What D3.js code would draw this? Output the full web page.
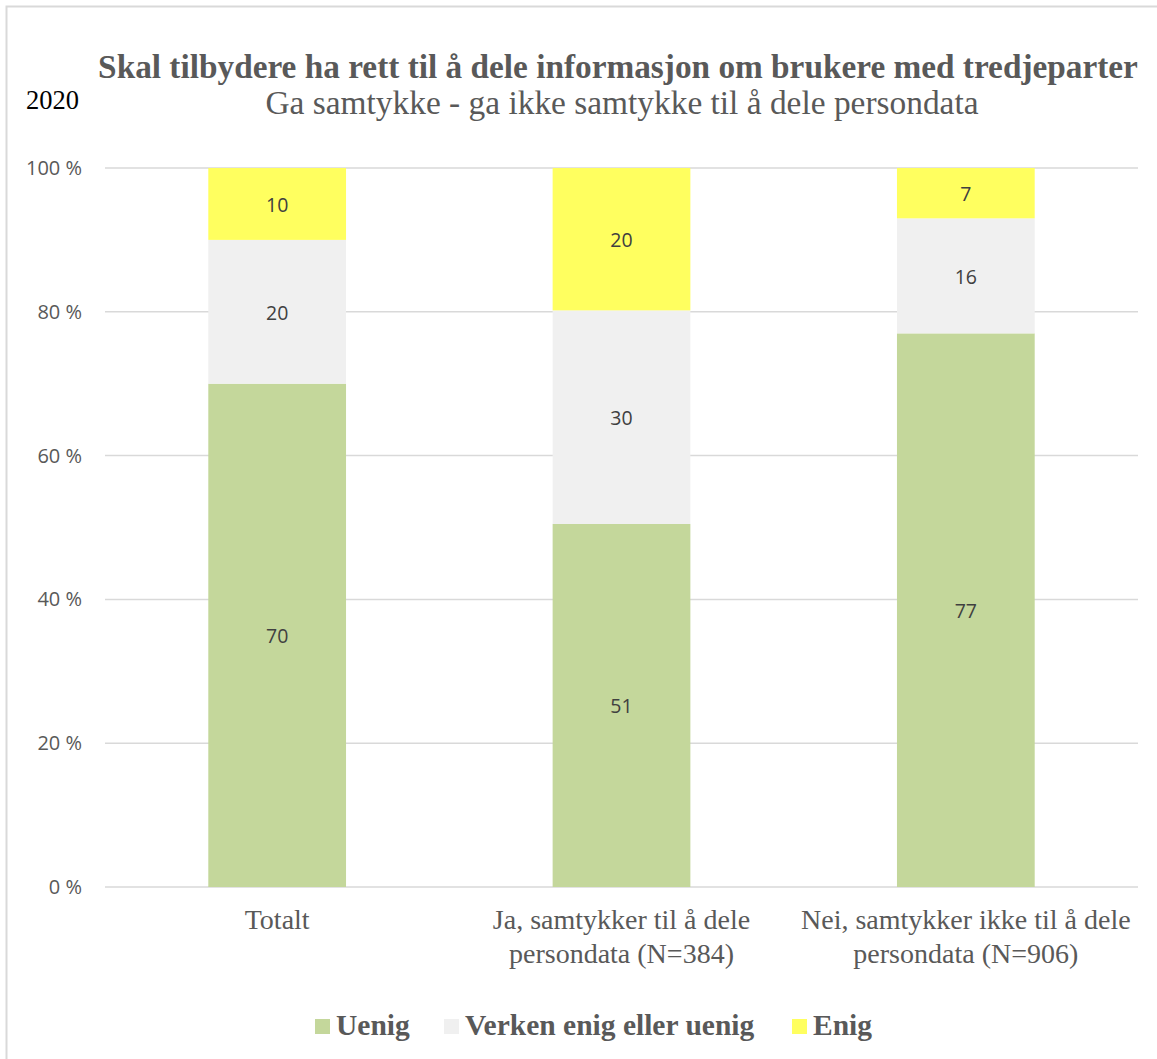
<!DOCTYPE html>
<html><head><meta charset="utf-8">
<script src="https://cdn.jsdelivr.net/npm/d3@7"></script>
<style>body{margin:0;background:#fff}svg{display:block}</style>
</head><body>
<script>
const categories = [["Totalt"], ["Ja, samtykker til å dele", "persondata (N=384)"], ["Nei, samtykker ikke til å dele", "persondata (N=906)"]];
const seriesNames = ["Uenig", "Verken enig eller uenig", "Enig"];
const uenig = [70, 51, 77];
const verken = [20, 30, 16];
const enig = [10, 20, 7];
const yTicks = [0, 20, 40, 60, 80, 100];
const colors = ["#c4d79b", "#f0f0f0", "#ffff5f"];

(function () {
const W = 1157, H = 1059;
const serif = "'Liberation Serif', 'Times New Roman', serif";
const sans = "'Open Sans', sans-serif";
const svg = d3.select("body").append("svg").attr("width", W).attr("height", H);
svg.append("path").attr("d", `M6.5,${H} V6.5 H${W}`).attr("fill", "none").attr("stroke", "#d9d9d9").attr("stroke-width", 2);

const pLeft = 105, pRight = 1138, pTop = 168, pBottom = 887;
const x = d3.scaleBand().domain(d3.range(3)).range([pLeft, pRight]).paddingInner(0.6).paddingOuter(0.3);
const y = d3.scaleLinear().domain([0, 100]).range([pBottom, pTop]);

// gridlines
svg.append("g").selectAll("line").data(yTicks).join("line")
  .attr("x1", pLeft).attr("x2", pRight).attr("y1", d => y(d)).attr("y2", d => y(d))
  .attr("stroke", "#d9d9d9").attr("stroke-width", 1.5);

const yAxis = d3.axisLeft(y).tickValues(yTicks).tickFormat(d => d + " %").tickSize(0).tickPadding(0);
const ya = svg.append("g").attr("transform", `translate(${82},0)`).call(yAxis);
ya.select(".domain").remove();
ya.selectAll("text").attr("font-family", sans).attr("font-size", 20).attr("fill", "#595959");

// stack
const rows = d3.range(3).map(i => {
  const tot = uenig[i] + verken[i] + enig[i];
  return {i, Uenig: uenig[i] / tot * 100, "Verken enig eller uenig": verken[i] / tot * 100, Enig: enig[i] / tot * 100, raw: [uenig[i], verken[i], enig[i]]};
});
const stack = d3.stack().keys(seriesNames)(rows);
stack.forEach((s, k) => {
  const g = svg.append("g");
  g.selectAll("rect").data(s).join("rect")
    .attr("x", d => x(d.data.i)).attr("width", x.bandwidth())
    .attr("y", d => y(d[1])).attr("height", d => y(d[0]) - y(d[1]))
    .attr("fill", colors[k]);
  g.selectAll("text").data(s).join("text")
    .attr("x", d => x(d.data.i) + x.bandwidth() / 2)
    .attr("y", d => (y(d[0]) + y(d[1])) / 2 + 1)
    .attr("dy", "0.35em").attr("text-anchor", "middle")
    .attr("font-family", sans).attr("font-size", 19.5).attr("fill", "#404040")
    .text(d => d.data.raw[k]);
});

// category labels
const cg = svg.append("g");
categories.forEach((lines, i) => {
  lines.forEach((ln, j) => {
    cg.append("text").attr("x", x(i) + x.bandwidth() / 2).attr("y", 929 + j * 34)
      .attr("text-anchor", "middle").attr("font-family", serif)
      .attr("font-size", 28).attr("fill", "#595959").text(ln);
  });
});

// titles
svg.append("text").attr("x", 618).attr("y", 78).attr("text-anchor", "middle")
  .attr("font-family", serif).attr("font-weight", "bold").attr("font-size", 33.3)
  .attr("fill", "#595959").text("Skal tilbydere ha rett til å dele informasjon om brukere med tredjeparter");
svg.append("text").attr("x", 622).attr("y", 114).attr("text-anchor", "middle")
  .attr("font-family", serif).attr("font-size", 33.4)
  .attr("fill", "#595959").text("Ga samtykke - ga ikke samtykke til å dele persondata");
svg.append("text").attr("x", 26).attr("y", 109)
  .attr("font-family", serif).attr("font-size", 26.5)
  .attr("fill", "#000").text("2020");

// legend
const legX = [315, 444, 792];
seriesNames.forEach((n, k) => {
  svg.append("rect").attr("x", legX[k]).attr("y", 1019).attr("width", 15).attr("height", 15).attr("fill", colors[k]);
  svg.append("text").attr("x", legX[k] + 21).attr("y", 1035)
    .attr("font-family", serif).attr("font-weight", "bold").attr("font-size", 29.5)
    .attr("fill", "#595959").text(n);
});
})();
</script>
</body></html>
